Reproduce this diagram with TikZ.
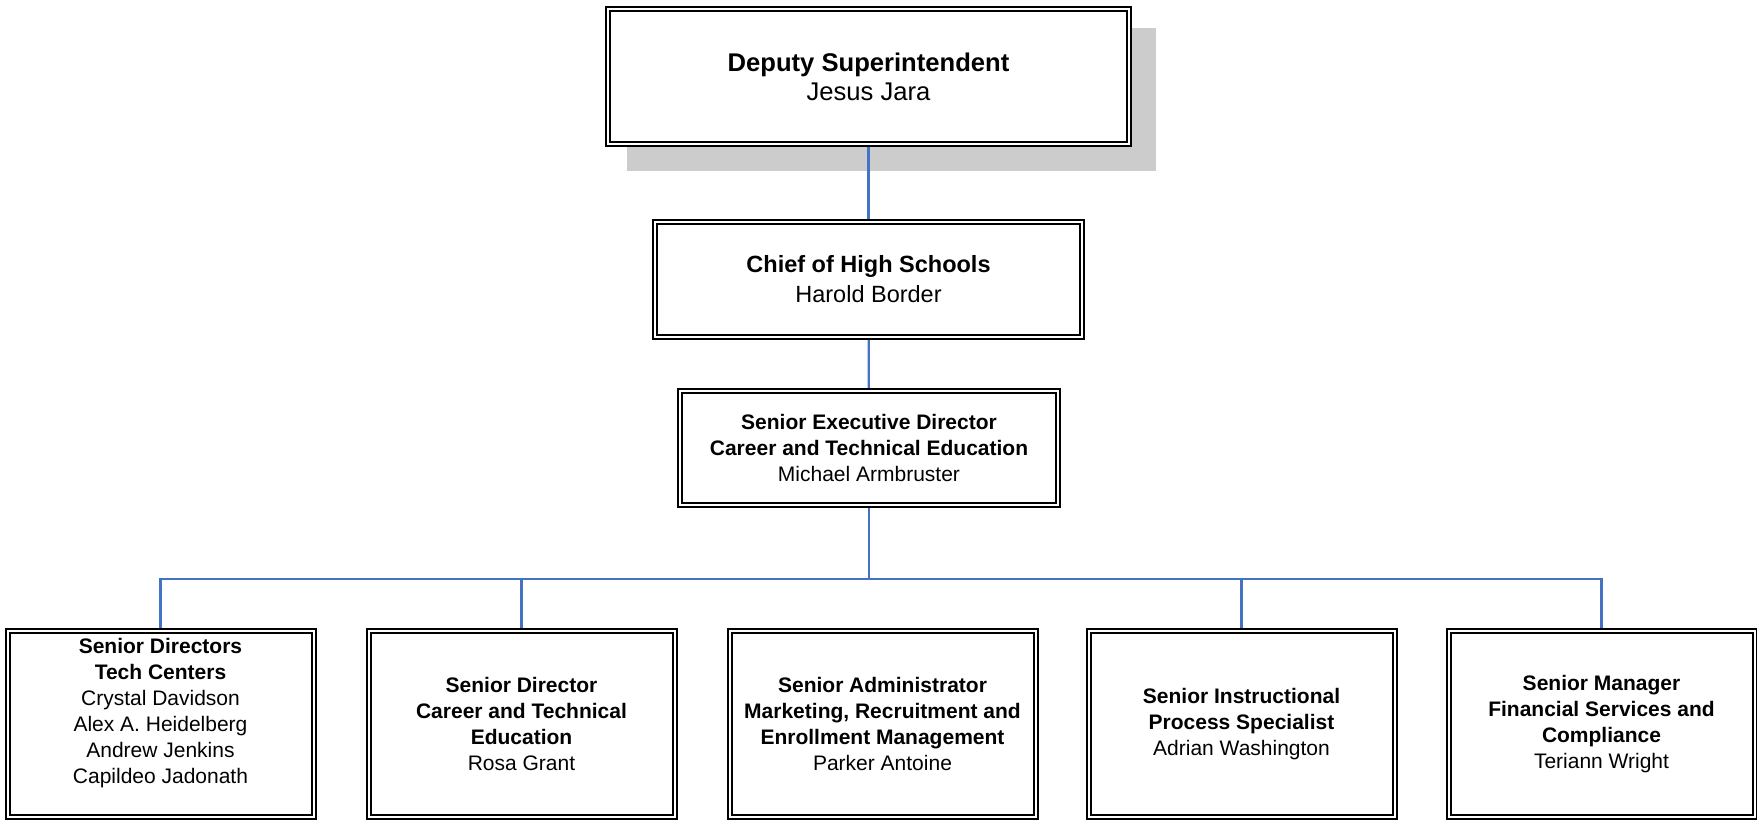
\documentclass[tikz,border=0pt]{standalone}
\usepackage{fontspec}
\setmainfont{Liberation Sans}
\usetikzlibrary{backgrounds}
\definecolor{linkblue}{HTML}{4472C4}
\definecolor{shadowgray}{HTML}{CCCCCC}

\begin{document}
\begin{tikzpicture}[x=0.5pt, y=-0.5pt,
    box/.style={draw, fill=white, line width=1pt, double=white, double distance=1pt, align=center, inner sep=0pt},
    unitbox/.style={box, font=\fontsize{10.5}{13}\selectfont, minimum width=153pt, minimum height=93pt},
    link/.style={draw=linkblue, line width=1.1pt}]
    \useasboundingbox (0,0) rectangle (1757,821);

    % Leitung oben
    \node[box, font=\fontsize{12.8}{14.5}\selectfont, minimum width=260.5pt, minimum height=67.5pt] (deputy) at (868.5,76.5)
        {\textbf{Deputy Superintendent}\\Jesus Jara};
    \node[box, font=\fontsize{11.75}{15}\selectfont, minimum width=213.5pt, minimum height=57.5pt] (chief) at (868.5,279.5)
        {\textbf{Chief of High Schools}\\Harold Border};
    \node[box, font=\fontsize{10.5}{13}\selectfont, minimum width=189pt, minimum height=57pt] (sed) at (869,448)
        {\textbf{Senior Executive Director}\\\textbf{Career and Technical Education}\\Michael Armbruster};

    % untere Reihe
    \node[unitbox] (techctr) at (160.5,724)
        {\raisebox{2.5pt}[0pt][0pt]{\begin{tabular}{@{}c@{}}\textbf{Senior Directors}\\\textbf{Tech Centers}\\Crystal Davidson\\Alex A. Heidelberg\\Andrew Jenkins\\Capildeo Jadonath\end{tabular}}};
    \node[unitbox] (ctedir) at (521.5,724)
        {\textbf{Senior Director}\\\textbf{Career and Technical}\\\textbf{Education}\\Rosa Grant};
    \node[unitbox] (mktg) at (882.5,724)
        {\textbf{Senior Administrator}\\\textbf{Marketing, Recruitment and}\\\textbf{Enrollment Management}\\Parker Antoine};
    \node[unitbox] (process) at (1241.5,724)
        {\textbf{Senior Instructional}\\\textbf{Process Specialist}\\Adrian Washington};
    \node[unitbox] (finance) at (1601.5,724)
        {\textbf{Senior Manager}\\\textbf{Financial Services and}\\\textbf{Compliance}\\Teriann Wright};

    \begin{pgfonlayer}{background}
        % Schatten
        \fill[shadowgray] ([shift={(20,20)}]deputy.north west) rectangle ([shift={(26,26)}]deputy.south east);

        % Verbindungen
        \draw[link] (deputy) -- (chief);
        \draw[link] (chief) -- (sed);
        \coordinate (bus) at (sed.south |- 0,579);
        \draw[link] (sed.south) -- (bus);
        \draw[link] (techctr.north) |- (bus) -| (finance.north);
        \draw[link] (ctedir.north) -- (ctedir.north |- bus);
        \draw[link] (process.north) -- (process.north |- bus);
    \end{pgfonlayer}
\end{tikzpicture}
\end{document}
